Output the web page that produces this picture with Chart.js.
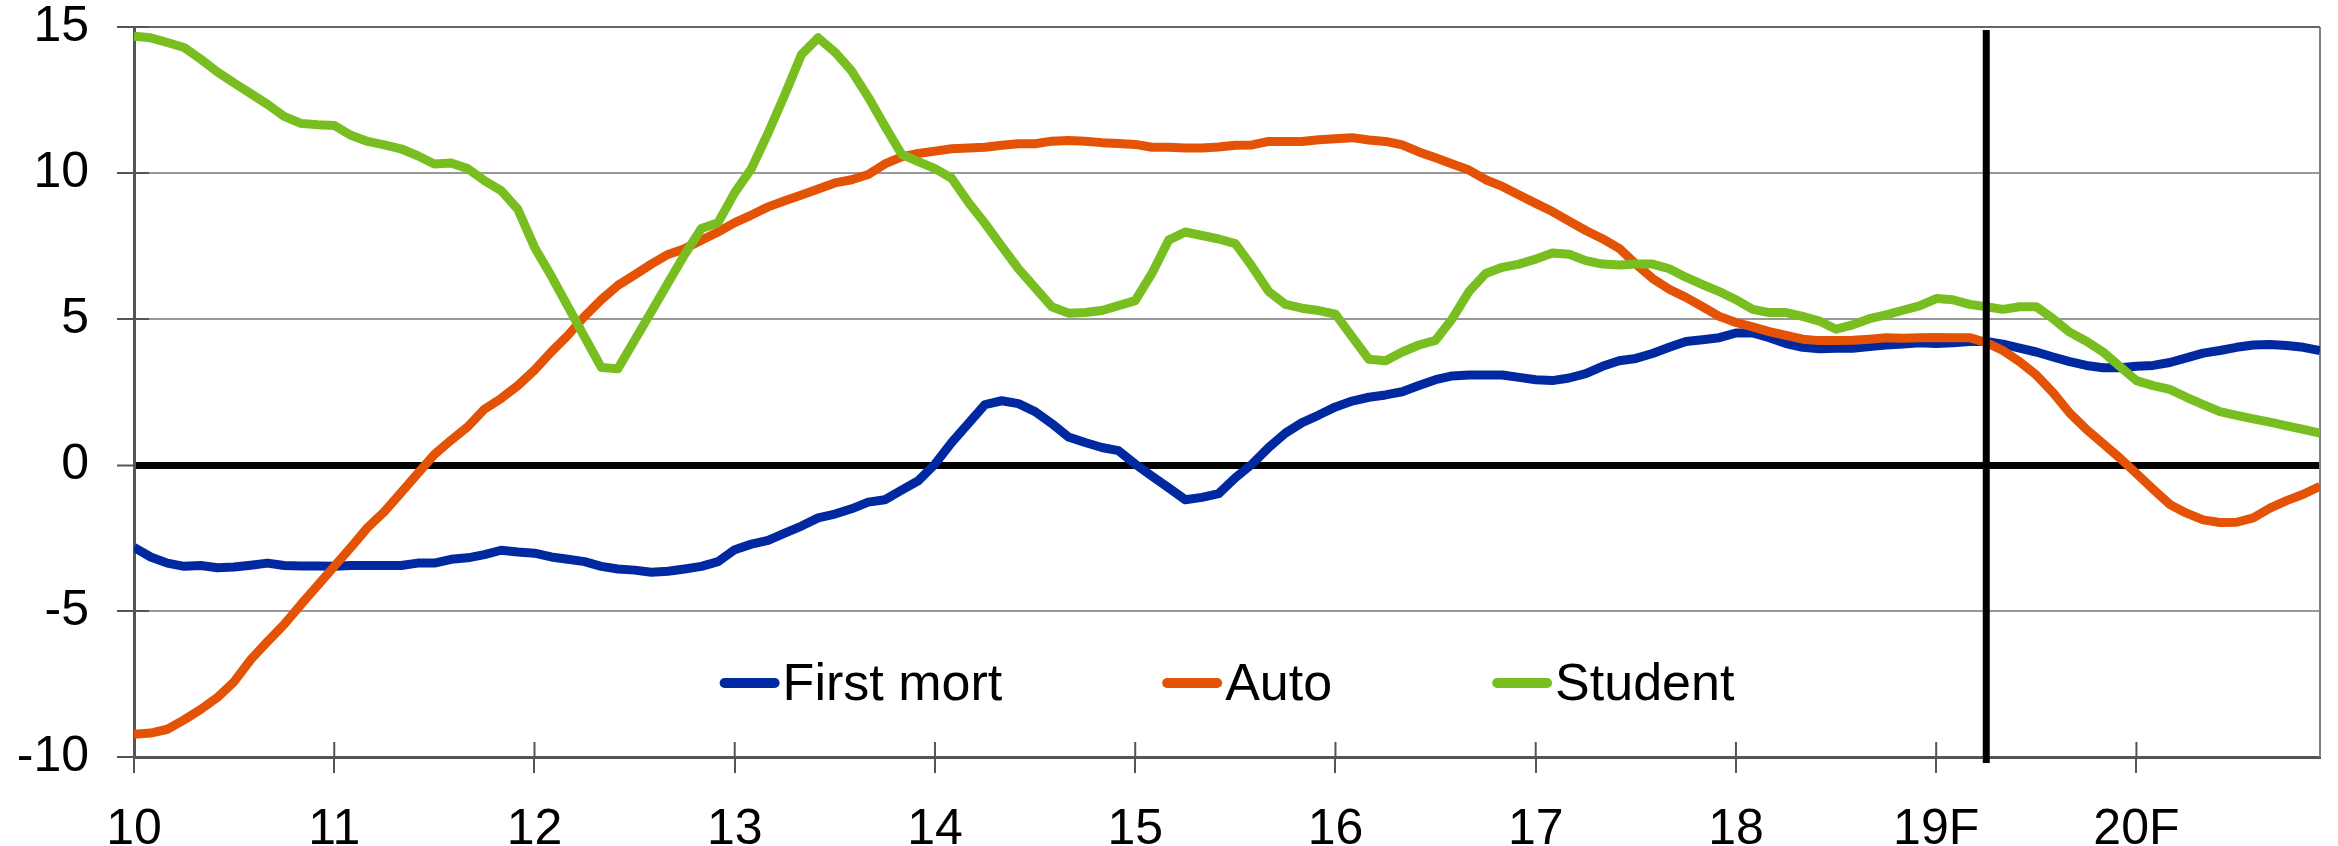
<!DOCTYPE html>
<html>
<head>
<meta charset="utf-8">
<title>Loan growth by type</title>
<script src="https://cdn.jsdelivr.net/npm/chart.js@4.4.1/dist/chart.umd.min.js"></script>
<style>
  html, body { margin: 0; padding: 0; background: #fff; }
  .chart-box { position: relative; width: 2338px; height: 846px; }
</style>
</head>
<body>
<div class="chart-box"><canvas id="chart"></canvas></div>
<script>
// one value per month, Jan 2010 .. Dec 2020 (19 and 20 are forecasts)
const yearLabels = ['10', '11', '12', '13', '14', '15', '16', '17', '18', '19F', '20F'];

const firstMort = [
  -2.82, -3.15, -3.36, -3.47, -3.44, -3.52, -3.49, -3.43, -3.36, -3.44, -3.46, -3.46,
  -3.47, -3.44, -3.44, -3.44, -3.44, -3.36, -3.36, -3.23, -3.18, -3.07, -2.92, -2.98,
  -3.02, -3.15, -3.23, -3.31, -3.47, -3.56, -3.6, -3.67, -3.64, -3.56, -3.47, -3.31,
  -2.9, -2.71, -2.58, -2.33, -2.09, -1.81, -1.68, -1.5, -1.27, -1.19, -0.86, -0.54,
  0.03, 0.77, 1.42, 2.07, 2.2, 2.1, 1.83, 1.42, 0.96, 0.77, 0.6, 0.49,
  0.03, -0.38, -0.78, -1.19, -1.11, -0.98, -0.44, 0.03, 0.6, 1.09, 1.45, 1.71,
  1.99, 2.19, 2.32, 2.4, 2.51, 2.72, 2.92, 3.05, 3.08, 3.08, 3.08, 3.0,
  2.92, 2.89, 2.98, 3.13, 3.38, 3.57, 3.65, 3.82, 4.03, 4.23, 4.29, 4.36,
  4.52, 4.52, 4.36, 4.16, 4.03, 3.98, 4.0, 4.0, 4.06, 4.11, 4.14, 4.19,
  4.16, 4.19, 4.23, 4.23, 4.14, 4.0, 3.87, 3.7, 3.54, 3.41, 3.33, 3.33,
  3.38, 3.41, 3.51, 3.67, 3.83, 3.92, 4.03, 4.11, 4.13, 4.09, 4.03, 3.92
];

const auto = [
  -9.22, -9.18, -9.05, -8.73, -8.37, -7.96, -7.42, -6.66, -6.05, -5.46, -4.78, -4.13,
  -3.47, -2.82, -2.14, -1.6, -0.95, -0.29, 0.36, 0.85, 1.31, 1.91, 2.28, 2.72,
  3.25, 3.87, 4.44, 5.09, 5.66, 6.15, 6.51, 6.88, 7.21, 7.41, 7.7, 7.98,
  8.3, 8.56, 8.84, 9.05, 9.25, 9.45, 9.66, 9.77, 9.95, 10.31, 10.55, 10.67,
  10.75, 10.83, 10.86, 10.88, 10.95, 11.0, 11.0, 11.09, 11.11, 11.09, 11.04, 11.01,
  10.98, 10.88, 10.88, 10.86, 10.86, 10.89, 10.95, 10.96, 11.08, 11.08, 11.08, 11.14,
  11.17, 11.21, 11.13, 11.08, 10.96, 10.72, 10.52, 10.31, 10.1, 9.77, 9.54, 9.25,
  8.96, 8.68, 8.35, 8.03, 7.75, 7.42, 6.88, 6.39, 6.02, 5.74, 5.42, 5.09,
  4.88, 4.73, 4.57, 4.44, 4.31, 4.26, 4.26, 4.27, 4.31, 4.36, 4.34, 4.36,
  4.37, 4.36, 4.36, 4.19, 3.92, 3.54, 3.08, 2.48, 1.78, 1.22, 0.73, 0.24,
  -0.29, -0.83, -1.35, -1.65, -1.88, -1.97, -1.96, -1.81, -1.48, -1.22, -1.0, -0.73
];

const student = [
  14.68, 14.63, 14.47, 14.3, 13.9, 13.46, 13.08, 12.72, 12.35, 11.94, 11.7, 11.65,
  11.63, 11.29, 11.08, 10.96, 10.83, 10.59, 10.31, 10.34, 10.15, 9.74, 9.4, 8.76,
  7.46, 6.48, 5.43, 4.39, 3.34, 3.3, 4.27, 5.25, 6.23, 7.21, 8.1, 8.3,
  9.33, 10.15, 11.37, 12.68, 14.06, 14.63, 14.14, 13.5, 12.6, 11.6, 10.64, 10.39,
  10.15, 9.82, 9.0, 8.27, 7.49, 6.72, 6.07, 5.42, 5.2, 5.22, 5.29, 5.46,
  5.63, 6.56, 7.7, 7.98, 7.86, 7.74, 7.58, 6.8, 5.94, 5.5, 5.37, 5.29,
  5.17, 4.39, 3.62, 3.57, 3.87, 4.11, 4.27, 5.01, 5.94, 6.56, 6.77, 6.88,
  7.05, 7.26, 7.22, 7.0, 6.88, 6.85, 6.88, 6.88, 6.72, 6.43, 6.18, 5.94,
  5.66, 5.33, 5.22, 5.22, 5.09, 4.93, 4.65, 4.8, 5.01, 5.14, 5.3, 5.45,
  5.7, 5.66, 5.5, 5.42, 5.33, 5.42, 5.42, 5.01, 4.55, 4.24, 3.87, 3.38,
  2.89, 2.72, 2.59, 2.32, 2.07, 1.83, 1.7, 1.58, 1.47, 1.34, 1.22, 1.09
];

const forecastStart = 111; // month index of the vertical divider

const fontFamily = '"Liberation Sans", Arial, sans-serif';
Chart.defaults.font.family = fontFamily;
Chart.defaults.color = '#000';

const toPoints = arr => arr.map((v, i) => ({ x: i, y: v }));

// right frame line, inner halves of the tick marks
const frameLines = {
  id: 'frameLines',
  beforeDatasetsDraw(chart) {
    const ctx = chart.ctx;
    const a = chart.chartArea;
    const xs = chart.scales.x;
    const ys = chart.scales.y;
    ctx.save();
    ctx.strokeStyle = '#808080';
    ctx.lineWidth = 2;
    ctx.beginPath();
    ctx.moveTo(a.right, a.top);
    ctx.lineTo(a.right, a.bottom);
    ctx.stroke();

    ctx.strokeStyle = '#555';
    ctx.beginPath();
    xs.ticks.forEach(t => {
      const px = xs.getPixelForValue(t.value);
      ctx.moveTo(px, a.bottom);
      ctx.lineTo(px, a.bottom - 15);
    });
    ys.ticks.forEach(t => {
      if (t.value === 0) return;
      const py = ys.getPixelForValue(t.value);
      ctx.moveTo(a.left, py);
      ctx.lineTo(a.left + 15, py);
    });
    ctx.stroke();
    ctx.restore();
  }
};

// forecast divider and the legend inside the plot
const overlay = {
  id: 'overlay',
  afterDatasetsDraw(chart) {
    const ctx = chart.ctx;
    const a = chart.chartArea;
    const xs = chart.scales.x;
    ctx.save();

    const fx = xs.getPixelForValue(forecastStart);
    ctx.strokeStyle = '#000';
    ctx.lineWidth = 7;
    ctx.beginPath();
    ctx.moveTo(fx, a.top + 3);
    ctx.lineTo(fx, a.bottom + 6);
    ctx.stroke();

    const lineLen = 60;
    const textGap = 3;
    const itemGap = 160;
    const midY = 683;
    ctx.font = '52px ' + fontFamily;
    const items = chart.data.datasets.map(ds => ({
      label: ds.label,
      color: ds.borderColor,
      w: ctx.measureText(ds.label).width
    }));
    let total = itemGap * (items.length - 1);
    items.forEach(it => { total += lineLen + textGap + it.w; });
    let x = (a.left + a.right) / 2 - total / 2;
    ctx.lineCap = 'round';
    ctx.lineWidth = 10;
    ctx.textBaseline = 'alphabetic';
    ctx.fillStyle = '#000';
    items.forEach(it => {
      ctx.strokeStyle = it.color;
      ctx.beginPath();
      ctx.moveTo(x + 5, midY);
      ctx.lineTo(x + lineLen - 5, midY);
      ctx.stroke();
      ctx.fillText(it.label, x + lineLen + textGap, midY + 17);
      x += lineLen + textGap + it.w + itemGap;
    });
    ctx.restore();
  }
};

const names = ['First mort', 'Auto', 'Student'];
const colors = ['#0028a0', '#e35205', '#78be20'];
const series = [firstMort, auto, student];

const datasets = series.map((s, i) => ({
  label: names[i],
  data: toPoints(s),
  borderColor: colors[i],
  backgroundColor: colors[i],
  borderWidth: 9,
  borderJoinStyle: 'round',
  pointRadius: 0,
  tension: 0,
  fill: false,
  order: series.length - 1 - i
}));

const chart = new Chart(document.getElementById('chart'), {
  type: 'line',
  data: { datasets: datasets },
  options: {
    responsive: true,
    maintainAspectRatio: false,
    devicePixelRatio: 1,
    animation: false,
    layout: { padding: { top: 27, right: 18, left: 0, bottom: 0 } },
    plugins: {
      legend: { display: false },
      tooltip: { enabled: false }
    },
    scales: {
      x: {
        type: 'linear',
        min: 0,
        max: firstMort.length - 1,
        afterBuildTicks: s => {
          s.ticks = yearLabels.map((_, i) => ({ value: i * 12 }));
        },
        afterFit: s => {
          s.height = 89;
          s.paddingLeft = 0;
          s.paddingRight = 0;
        },
        ticks: {
          autoSkip: false,
          maxRotation: 0,
          padding: 32,
          font: { size: 50, lineHeight: 1 },
          callback: v => yearLabels[v / 12]
        },
        grid: {
          drawOnChartArea: false,
          tickLength: 16,
          tickColor: '#555',
          lineWidth: 2
        },
        border: { color: '#555', width: 3 }
      },
      y: {
        min: -10,
        max: 15,
        afterFit: s => {
          s.width = 134;
          s.paddingTop = 0;
          s.paddingBottom = 0;
        },
        ticks: {
          stepSize: 5,
          padding: 28,
          font: { size: 50, lineHeight: 1 }
        },
        grid: {
          color: c => c.tick.value === 0 ? '#000' : (c.tick.value === 15 ? '#666' : '#999'),
          lineWidth: c => c.tick.value === 0 ? 7 : 2,
          tickLength: 17,
          tickColor: '#555',
          tickWidth: 2
        },
        border: { color: '#555', width: 3 }
      }
    }
  },
  plugins: [frameLines, overlay]
});
</script>
</body>
</html>
